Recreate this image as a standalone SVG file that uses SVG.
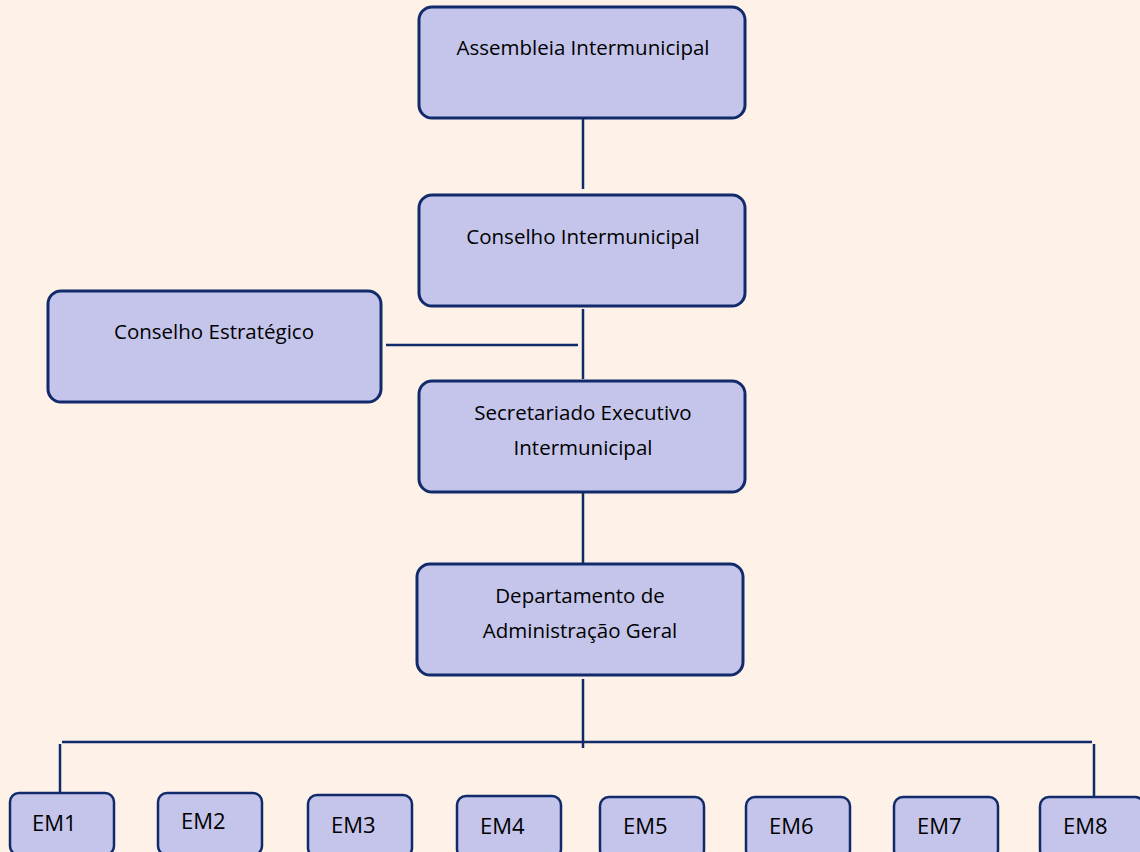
<svg xmlns="http://www.w3.org/2000/svg" width="1140" height="852" viewBox="0 0 1140 852">
<style>
.bg{fill:#fef1e8}
.box{fill:#c5c5eb;stroke:#112a6a;stroke-width:3}
.em{fill:#c5c5eb;stroke:#112a6a;stroke-width:2.5}
.t{font-family:"Open Sans","Liberation Sans",sans-serif;font-size:20.5px;fill:#000}
.e{font-size:22px}
.c{text-anchor:middle}
.ln{stroke:#112a6a;stroke-width:2.5;fill:none}
</style>
<rect class="bg" x="0" y="0" width="1140" height="852"/>
<g id="connectors">
<line class="ln" x1="583" y1="118" x2="583" y2="189"/>
<line class="ln" x1="583" y1="309" x2="583" y2="379"/>
<line class="ln" x1="386" y1="345" x2="578" y2="345"/>
<line class="ln" x1="583" y1="493" x2="583" y2="563"/>
<line class="ln" x1="583" y1="679" x2="583" y2="748"/>
<line class="ln" x1="62" y1="742" x2="1092" y2="742"/>
<line class="ln" x1="60" y1="744" x2="60" y2="793"/>
<line class="ln" x1="1094" y1="744" x2="1094" y2="796"/>
</g>
<g id="assembleia">
<rect class="box" x="419" y="7" width="326" height="111" rx="13"/>
<text class="t c" x="583" y="55">Assembleia Intermunicipal</text>
</g>
<g id="conselho-intermunicipal">
<rect class="box" x="419" y="195" width="326" height="111" rx="13"/>
<text class="t c" x="583" y="244">Conselho Intermunicipal</text>
</g>
<g id="conselho-estrategico">
<rect class="box" x="48" y="291" width="333" height="111" rx="13"/>
<text class="t c" x="214" y="339">Conselho Estratégico</text>
</g>
<g id="secretariado">
<rect class="box" x="419" y="381" width="326" height="111" rx="13"/>
<text class="t c" x="583" y="420">Secretariado Executivo</text>
<text class="t c" x="583" y="455">Intermunicipal</text>
</g>
<g id="departamento">
<rect class="box" x="417" y="564" width="326" height="111" rx="13"/>
<text class="t c" x="580" y="603">Departamento de</text>
<text class="t c" x="580" y="638">Administração Geral</text>
</g>
<g id="em1"><rect class="em" x="10" y="793" width="104" height="62" rx="9"/><text class="t e" x="32" y="831">EM1</text></g>
<g id="em2"><rect class="em" x="158" y="793" width="104" height="62" rx="9"/><text class="t e" x="181" y="829">EM2</text></g>
<g id="em3"><rect class="em" x="308" y="795" width="104" height="62" rx="9"/><text class="t e" x="331" y="833">EM3</text></g>
<g id="em4"><rect class="em" x="457" y="796" width="104" height="62" rx="9"/><text class="t e" x="480" y="834">EM4</text></g>
<g id="em5"><rect class="em" x="600" y="797" width="104" height="62" rx="9"/><text class="t e" x="623" y="834">EM5</text></g>
<g id="em6"><rect class="em" x="746" y="797" width="104" height="62" rx="9"/><text class="t e" x="769" y="834">EM6</text></g>
<g id="em7"><rect class="em" x="894" y="797" width="104" height="62" rx="9"/><text class="t e" x="917" y="834">EM7</text></g>
<g id="em8"><rect class="em" x="1040" y="797" width="104" height="62" rx="9"/><text class="t e" x="1063" y="834">EM8</text></g>
</svg>
